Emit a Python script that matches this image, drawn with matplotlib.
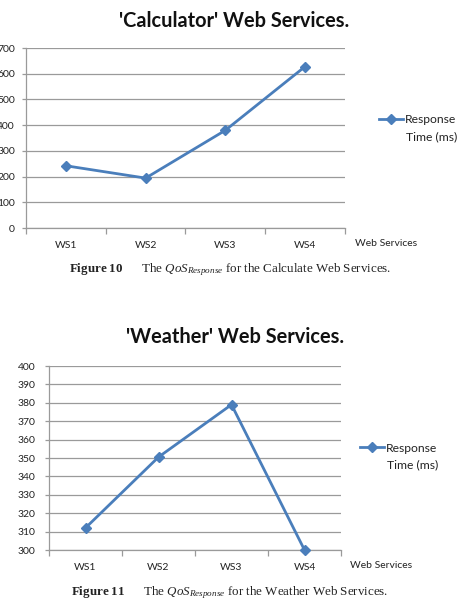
import matplotlib
matplotlib.use("Agg")
import matplotlib.pyplot as plt
from matplotlib.ticker import FixedLocator

# Data
services = ["WS1", "WS2", "WS3", "WS4"]
calc_response = [242, 194, 380, 628]
weather_response = [312, 350.5, 379, 300]
calc_yticks = list(range(0, 701, 100))
weather_yticks = list(range(300, 401, 10))

W, H = 460, 615
LINE = "#4A7EBB"
GRID = "#9A9A9A"
TXT = "#222222"
plt.rcParams["font.family"] = ["Lato", "DejaVu Sans"]
plt.rcParams["mathtext.fontset"] = "custom"
plt.rcParams["mathtext.rm"] = "Liberation Serif"
plt.rcParams["mathtext.it"] = "Liberation Serif:italic"
plt.rcParams["mathtext.bf"] = "Liberation Serif:bold"

fig = plt.figure(figsize=(W / 100, H / 100), dpi=100)


def px_axes(left, top, right, bottom):
    return fig.add_axes([left / W, 1 - bottom / H, (right - left) / W, (bottom - top) / H])


def draw_chart(ax, values, yticks, title, title_y, legend_xy, xlabel_xy, caption_y, caption, ypad):
    x = list(range(1, len(services) + 1))
    ax.plot(x, values, color=LINE, lw=2.0, marker="D", ms=5, label="Response",
            clip_on=False, zorder=3)
    ax.set_xlim(0.5, len(services) + 0.5)
    ax.set_ylim(yticks[0], yticks[-1])
    ax.set_yticks(yticks)
    ax.yaxis.grid(True, color=GRID, lw=0.9)
    ax.set_axisbelow(True)
    for s in ("top", "right"):
        ax.spines[s].set_visible(False)
    for s in ("left", "bottom"):
        ax.spines[s].set_color(GRID)
        ax.spines[s].set_linewidth(0.9)
    # boundaries carry the tick marks, centres carry the labels
    ax.xaxis.set_major_locator(FixedLocator([i + 0.5 for i in range(len(services) + 1)]))
    ax.xaxis.set_minor_locator(FixedLocator(x))
    ax.set_xticklabels([])
    ax.set_xticklabels(services, minor=True)
    ax.tick_params(axis="x", which="major", length=4, color=GRID, width=0.9)
    ax.tick_params(axis="x", which="minor", length=0, pad=9, labelsize=7.5, labelcolor=TXT)
    ax.tick_params(axis="y", length=3, color=GRID, width=0.9, pad=ypad, labelsize=7.5,
                   labelcolor=TXT)

    fig.text(0.51, 1 - title_y / H, title, ha="center", va="center",
             fontsize=14.4, fontweight="bold", color="#111111")
    fig.text(xlabel_xy[0] / W, 1 - xlabel_xy[1] / H, "Web Services", ha="left", va="center",
             fontsize=7.5, color=TXT)
    ax.legend(loc="center left", bbox_to_anchor=(legend_xy[0] / W, 1 - legend_xy[1] / H),
              bbox_transform=fig.transFigure, frameon=False, handlelength=2.0,
              handletextpad=0.15, borderaxespad=0, borderpad=0, fontsize=8.7,
              labelcolor=TXT)
    fig.text((legend_xy[0] + 27) / W, 1 - (legend_xy[1] + 16.5) / H, "Time (ms)",
             ha="left", va="center", fontsize=8.7, color=TXT)
    fig.text(0.5, 1 - caption_y / H, caption, ha="center", va="center", fontsize=9.4,
             color=TXT, family="Liberation Serif")


ax1 = px_axes(26, 48, 345, 228)
draw_chart(ax1, calc_response, calc_yticks, "'Calculator' Web Services.", 21, (379, 120),
           (355, 243), 270,
           r"$\mathbf{Figure\ 10}$      The $QoS_{Response}$ for the Calculate Web Services.", 5)

ax2 = px_axes(49, 366, 341, 550)
draw_chart(ax2, weather_response, weather_yticks, "'Weather' Web Services.", 337, (360, 448),
           (350, 566), 593,
           r"$\mathbf{Figure\ 11}$      The $QoS_{Response}$ for the Weather Web Services.", 7)

fig.savefig("out.png", dpi=100, facecolor="white")
